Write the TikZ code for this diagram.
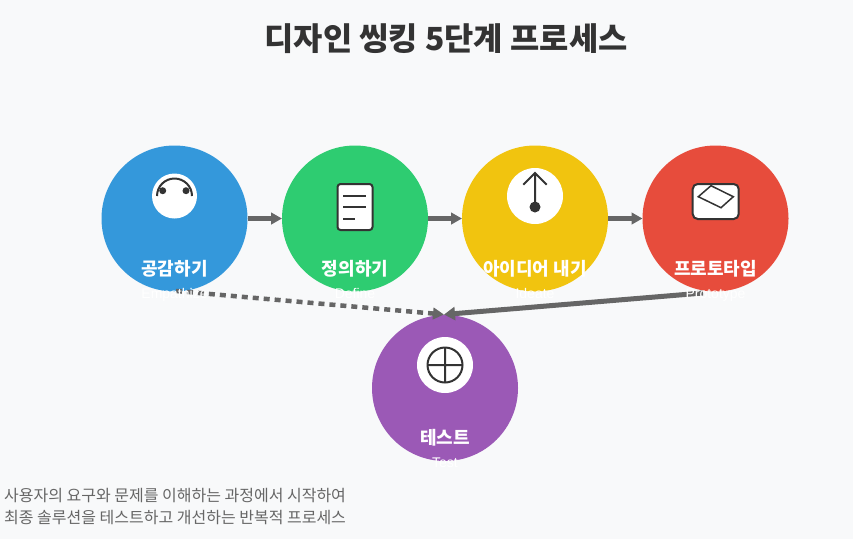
\documentclass[tikz,border=0pt]{standalone}
\usepackage{fontspec}
\setmainfont{Noto Sans CJK KR}
\newfontfamily\latinfont{Liberation Sans}
\usetikzlibrary{arrows.meta}
\definecolor{bgc}{HTML}{F8F9FA}
\definecolor{ink}{HTML}{333333}
\definecolor{linec}{HTML}{666666}
\definecolor{cblue}{HTML}{3498DB}
\definecolor{cgreen}{HTML}{2ECC71}
\definecolor{cyellow}{HTML}{F1C40F}
\definecolor{cred}{HTML}{E74C3C}
\definecolor{cpurple}{HTML}{9B59B6}
\tikzset{
  stage/.style={circle,minimum size=146pt,inner sep=0pt,outer sep=0pt},
  ko/.style={text=white,font=\fontsize{18}{20}\selectfont\bfseries,inner sep=0pt,anchor=base},
  en/.style={text=white,font=\fontsize{14}{16}\selectfont\latinfont,inner sep=0pt,anchor=base},
  iconbg/.style={circle,fill=white,inner sep=0pt,outer sep=0pt},
  icon/.style={draw=ink,line width=2pt},
  link/.style={draw=linec,line width=4.5pt,-{Triangle[length=11pt,width=11.5pt]}},
  para/.style={text=linec,font=\fontsize{16}{18}\selectfont,inner sep=0pt,anchor=west}
}
\begin{document}
\begin{tikzpicture}[x=1pt,y=-1pt]
\useasboundingbox (0,0) rectangle (853,539);
\fill[bgc] (0,0) rectangle (853,539);
\node[text=ink,font=\fontsize{31.8}{36}\selectfont\bfseries,inner sep=0pt] (title) at (446,38.5) {디자인 씽킹 5단계 프로세스};
% circles
\node[stage,fill=cblue] (s1) at (174.5,218.5) {};
\node[stage,fill=cgreen] (s2) at (355,218.5) {};
\node[stage,fill=cyellow] (s3) at (535,218.5) {};
\node[stage,fill=cred] (s4) at (715.5,218.5) {};
\node[stage,fill=cpurple] (s5) at (445,388) {};
% connectors
\draw[link] (s1) -- (s2);
\draw[link] (s2) -- (s3);
\draw[link] (s3) -- (s4);
\coordinate (d1) at (176,291);
\coordinate (d2) at (703,293);
\coordinate (t5) at (444,314.5);
\draw[link,dash pattern=on 6pt off 5pt] (d1) -- (t5);
\draw[link,line width=5pt,-{Triangle[length=11pt,width=13pt]}] (d2) -- (t5);
% icon 1
\node[iconbg,minimum size=45pt] (i1) at (174.5,196) {};
\draw[icon] (157,196) arc[start angle=180,end angle=360,radius=17.5];
\fill[ink] (162.7,190.7) circle[radius=3.5] (186,190.7) circle[radius=3.5];
% icon 2
\draw[icon,fill=white,rounded corners=3pt] (337.5,184) rectangle (372.5,230);
\draw[icon] (343.3,196) -- (366,196) (343.3,207.3) -- (366,207.3) (343.3,218.7) -- (355,218.7);
% icon 3
\node[iconbg,minimum size=56pt] (i3) at (535,196) {};
\draw[icon] (535,207) -- (535,173) (523.3,184.7) -- (535,173) -- (546.7,184.7);
\fill[ink] (535,207) circle[radius=5.5];
% icon 4
\draw[icon,fill=white,rounded corners=5pt] (692.7,184) rectangle (738.7,219);
\draw[draw=ink,line width=1.5pt] (698.3,196.7) -- (711,185.7) -- (733.3,196.7) -- (721,207.7) -- cycle;
% icon 5
\node[iconbg,minimum size=56pt] (i5) at (445,365) {};
\draw[icon] (445,365) circle[radius=17.5] (445,347.5) -- (445,382.5) (427.5,365) -- (462.5,365);
% labels
\node[ko] (k1) at (174.5,275) {공감하기};
\node[en] (e1) at (174.5,298) {Empathize};
\node[ko] (k2) at (355,275) {정의하기};
\node[en] (e2) at (355,298) {Define};
\node[ko] (k3) at (535,275) {아이디어 내기};
\node[en] (e3) at (535,298) {Ideate};
\node[ko] (k4) at (715.5,275) {프로토타입};
\node[en] (e4) at (715.5,298) {Prototype};
\node[ko] (k5) at (445,444) {테스트};
\node[en] (e5) at (445,467) {Test};
\node[para] (p1) at (4,496) {사용자의 요구와 문제를 이해하는 과정에서 시작하여};
\node[para] (p2) at (4,518) {최종 솔루션을 테스트하고 개선하는 반복적 프로세스};
\end{tikzpicture}
\end{document}
